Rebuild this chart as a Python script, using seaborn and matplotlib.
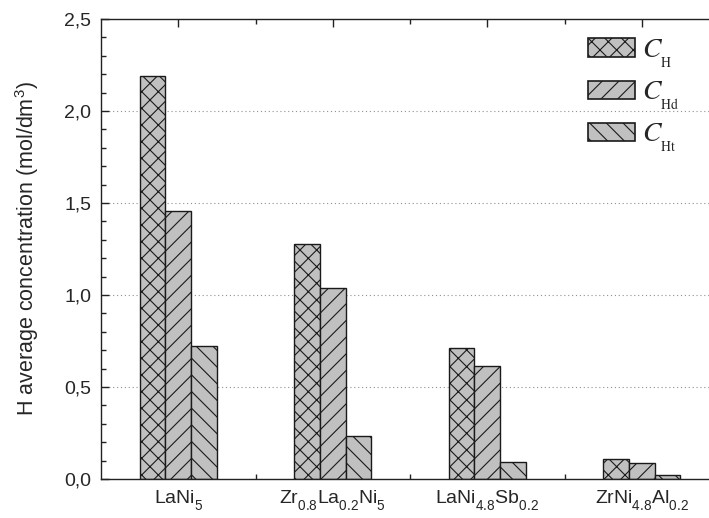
import numpy as np
import pandas as pd
import matplotlib
matplotlib.use("Agg")
import matplotlib.pyplot as plt
import seaborn as sns
from matplotlib.patches import Patch
from matplotlib.ticker import FuncFormatter, MultipleLocator

# tweak subscript drop to resemble the reference typography
try:
    import matplotlib._mathtext as _mt

    class _LibConsts(_mt.FontConstantsBase):
        sub1 = 0.75

    class _StixConsts(_mt.STIXFontConstants):
        sub1 = 0.5

    _mt._font_constant_mapping["Liberation Sans"] = _LibConsts
    _mt._font_constant_mapping["STIXGeneral"] = _StixConsts
except Exception:
    pass

categories = [r"$\mathregular{LaNi_5}$",
              r"$\mathregular{Zr_{0.8}La_{0.2}Ni_5}$",
              r"$\mathregular{LaNi_{4.8}Sb_{0.2}}$",
              r"$\mathregular{ZrNi_{4.8}Al_{0.2}}$"]
series = [r"$C_{{}_{\mathrm{H}}}$", r"$C_{{}_{\mathrm{Hd}}}$", r"$C_{{}_{\mathrm{Ht}}}$"]
c_h = [2.19, 1.275, 0.714, 0.11]
c_hd = [1.457, 1.04, 0.616, 0.088]
c_ht = [0.725, 0.234, 0.094, 0.024]
hatches = ["xx", "//", "\\\\"]

rows = []
for s, vals in zip(series, [c_h, c_hd, c_ht]):
    for c, v in zip(categories, vals):
        rows.append({"cat": c, "series": s, "val": v})
df = pd.DataFrame(rows)

sns.set_style("ticks")
plt.rcParams["font.family"] = ["Liberation Sans", "DejaVu Sans"]
plt.rcParams["hatch.linewidth"] = 0.8

fig = plt.figure(figsize=(7.09, 5.18), dpi=100)
ax = fig.add_axes([101/709, 39/518, 618/709, 460/518])

fill = "#c0c0c0"
edge = "#1a1a1a"
sns.barplot(data=df, x="cat", y="val", hue="series", order=categories,
            hue_order=series, palette=[fill]*3, width=0.5, ax=ax,
            edgecolor=edge, linewidth=1.0, legend=False, saturation=1)

for cont, h in zip(ax.containers, hatches):
    for p in cont.patches:
        p.set_hatch(h)
        p.set_edgecolor(edge)
        p.set_zorder(3)

ax.set_xlim(-0.5, 3.5)
ax.set_ylim(0, 2.5)
ax.yaxis.set_major_locator(MultipleLocator(0.5))
ax.yaxis.set_minor_locator(MultipleLocator(0.1))
ax.set_xticks(range(len(categories)))
ax.set_xticks([0.5, 1.5, 2.5], minor=True)
ax.set_xticklabels(categories, fontsize=14)
ax.yaxis.set_major_formatter(FuncFormatter(lambda v, p: f"{v:.1f}".replace(".", ",")))
ax.tick_params(axis="y", labelsize=14, pad=7)
ax.tick_params(axis="x", pad=7)
ax.tick_params(which="both", direction="in", top=True, right=True, color="#222222")
ax.tick_params(which="major", length=6, width=1)
ax.tick_params(which="minor", length=3.5, width=1)
ax.set_xlabel("")
ax.set_ylabel(r"H average concentration (mol/dm$^\mathregular{3}$)", fontsize=15.5, labelpad=17)
for sp in ax.spines.values():
    sp.set_linewidth(1.0)
    sp.set_color("#222222")
    sp.set_zorder(4)
ax.yaxis.grid(True, which="major", linestyle=(0, (1, 2.5)), color="#909090", linewidth=0.8, zorder=0)

handles = [Patch(facecolor=fill, edgecolor=edge, hatch=h, linewidth=1.2) for h in hatches]
leg = ax.legend(handles, series, loc="upper left", bbox_to_anchor=(487/618, 0.96),
                frameon=False, fontsize=20, handlelength=1.7, handleheight=0.64,
                labelspacing=0.36, handletextpad=0.25, borderaxespad=0, borderpad=0)
for t in leg.get_texts():
    t.set_math_fontfamily("stix")

fig.savefig("out.png", dpi=100)
